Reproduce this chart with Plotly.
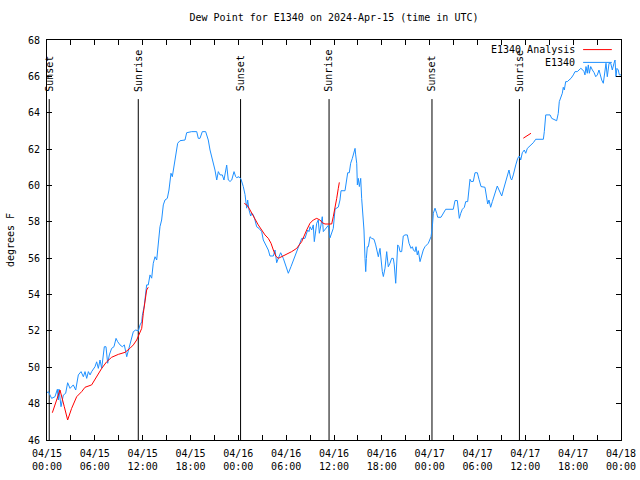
import pandas as pd
import plotly.graph_objects as go

# ---------------- data (hours since 2024-04-15 00:00 UTC) ----------------
obs_hours = [0.0, 0.17, 0.58, 1.0, 1.3, 1.42, 1.5, 1.76, 2.05, 2.34, 2.59, 2.89, 3.3, 3.6, 3.93, 4.27, 4.56,
             4.77, 4.98, 5.19, 5.4, 5.6, 6.02, 6.23, 6.44, 6.65, 6.86, 7.19, 7.4, 7.61, 7.82, 8.11, 8.4,
             8.66, 8.86, 9.16, 9.45, 9.7, 10.0, 10.2, 10.54, 10.83, 11.13, 11.46, 11.67, 11.88, 11.96,
             12.2, 12.5, 12.7, 12.92, 13.13, 13.33, 13.55, 13.76, 13.96, 14.17, 14.38, 14.59, 14.8,
             15.09, 15.3, 15.43, 15.55, 15.72, 15.93, 16.14, 16.39, 16.68, 17.1, 17.31, 17.52, 18.15,
             18.78, 18.98, 19.19, 19.48, 19.9, 20.23, 20.45, 20.66, 20.86, 21.07, 21.29, 21.49, 21.7,
             21.99, 22.2, 22.33, 22.54, 22.74, 22.96, 23.17, 23.46, 23.67, 23.79, 24.08, 24.33, 24.62,
             24.84, 25.05, 25.17, 25.34, 25.55, 25.68, 25.88, 26.09, 26.3, 26.59, 26.93, 27.13, 27.43,
             27.76, 27.97, 28.39, 28.6, 28.81, 29.01, 29.31, 29.64, 29.94, 30.27, 30.61, 30.9, 31.23,
             31.53, 31.95, 32.36, 32.7, 32.86, 32.99, 33.2, 33.4, 33.53, 33.7, 33.83, 34.03, 34.16,
             34.37, 34.53, 34.66, 34.87, 35.08, 35.28, 35.5, 35.71, 35.91, 36.13, 36.54, 36.75, 36.88,
             37.38, 37.59, 37.72, 37.92, 38.09, 38.3, 38.51, 38.64, 38.72, 38.85, 38.93, 39.05, 39.18,
             39.35, 39.47, 39.6, 39.76, 39.89, 39.98, 40.06, 40.18, 40.31, 40.52, 40.73, 41.02, 41.23,
             41.44, 41.56, 41.77, 41.9, 42.06, 42.19, 42.4, 42.61, 42.81, 43.02, 43.23, 43.44, 43.56,
             43.74, 43.86, 43.99, 44.15, 44.28, 44.49, 44.69, 44.91, 45.2, 45.41, 45.54, 45.66, 45.83,
             45.96, 46.16, 46.29, 46.45, 46.58, 46.79, 47.0, 47.2, 47.41, 47.63, 47.83, 48.17, 48.33,
             48.46, 48.67, 48.88, 49.01, 49.42, 49.71, 50.01, 50.96, 51.18, 51.47, 51.59, 51.72, 51.9,
             52.1, 52.35, 52.52, 52.77, 52.93, 53.06, 53.19, 53.47, 53.69, 53.98, 54.19, 54.44, 54.94,
             55.15, 55.28, 55.44, 55.65, 55.86, 56.07, 56.28, 56.48, 56.7, 56.82, 57.04, 57.24, 57.45,
             57.66, 57.95, 58.16, 58.29, 58.49, 58.62, 58.8, 59.05, 59.25, 59.42, 59.62, 59.87, 60.05,
             60.25, 60.46, 60.71, 61.0, 61.3, 62.26, 62.38, 62.56, 63.1, 63.31, 63.93, 64.13, 64.26,
             64.43, 64.64, 64.76, 64.89, 65.06, 65.27, 65.48, 65.73, 66.02, 66.23, 66.52, 66.73, 66.95,
             67.15, 67.36, 67.48, 67.61, 67.77, 67.9, 68.03, 68.2, 68.41, 68.62, 68.83, 69.03, 69.24,
             69.37, 69.58, 69.78, 69.99, 70.12, 70.28, 70.5, 70.71, 70.91, 71.12, 71.25, 71.37, 71.49,
             71.66, 71.79, 72.0]
obs_dewpt = [48.6, 48.66, 48.29, 48.38, 48.79, 48.2, 48.8, 47.83, 48.47, 48.57, 49.15, 48.84, 49.03, 48.75, 49.58, 49.76, 49.48,
             49.76, 49.39, 49.76, 49.58, 49.76, 50.03, 50.3, 49.94, 50.4, 49.94, 51.13, 51.13, 50.22, 50.68, 51.04, 51.13,
             51.59, 51.41, 51.23, 51.13, 51.23, 50.58, 50.95, 51.41, 51.96, 52.05, 52.0, 52.33, 52.5, 52.85,
             53.38, 54.53, 54.53, 55.08, 54.9, 55.72, 56.08, 55.9, 57.0, 57.73, 58.1, 58.93, 59.2,
             59.29, 59.75, 60.3, 60.67, 60.48, 61.03, 61.77, 62.32, 62.46, 62.5, 62.5, 62.9, 62.96,
             62.96, 62.59, 62.59, 62.96, 62.96, 62.5, 61.95, 61.58, 61.31, 60.85, 60.3, 60.76, 60.58,
             60.58, 60.3, 60.67, 61.12, 60.3, 60.22, 60.3, 60.76, 60.48, 60.43, 60.48, 60.35, 59.94,
             59.5, 58.75, 59.2, 58.65, 58.32, 58.47, 58.38, 58.1, 57.73, 57.64, 57.46, 57.0, 56.73,
             56.45, 56.12, 56.12, 56.45, 55.75, 55.99, 56.3, 55.99, 55.63, 55.17, 55.54, 55.9, 56.27,
             56.63, 57.09, 57.09, 57.55, 57.46, 57.73, 57.55, 57.83, 56.91, 57.64, 57.92, 58.1, 57.37,
             57.83, 58.28, 57.46, 57.6, 57.73, 57.8, 57.12, 57.37, 57.64, 58.7, 58.81, 59.2, 59.71,
             59.71, 60.39, 60.7, 60.7, 61.22, 61.49, 61.86, 62.04, 61.68, 61.22, 60.03, 60.39, 59.94,
             60.39, 59.29, 58.65, 57.55, 55.99, 55.26, 55.99, 56.63, 56.63, 57.18, 57.09, 57.04, 56.73,
             56.27, 56.08, 56.54, 55.72, 55.26, 54.99, 55.45, 56.36, 55.53, 55.72, 55.99, 55.99, 55.63,
             54.62, 55.99, 56.73, 56.63, 56.36, 56.36, 57.22, 57.28, 57.28, 56.82, 56.63, 56.54, 56.63,
             56.45, 56.36, 56.63, 56.18, 56.41, 55.81, 56.18, 56.45, 56.63, 56.73, 56.82, 57.18, 57.7,
             58.47, 58.75, 58.47, 58.25, 58.25, 58.47, 58.69, 58.69, 59.17, 59.17, 58.69, 58.19, 58.47,
             58.69, 58.8, 59.11, 59.11, 60.03, 60.34, 60.22, 60.22, 60.7, 60.7, 60.34, 59.94, 59.9,
             59.2, 58.98, 59.2, 58.8, 59.11, 59.39, 59.75, 59.97, 59.75, 59.66, 59.42, 59.75, 60.08,
             60.39, 60.85, 60.39, 60.3, 60.58, 60.85, 61.13, 61.5, 61.62, 61.4, 61.8, 61.95, 61.77,
             62.04, 62.13, 62.28, 62.35, 62.54, 62.54, 62.96, 63.88, 63.88, 63.69, 63.56, 63.96, 64.61,
             64.79, 65.07, 65.4, 65.25, 65.71, 65.71, 65.8, 65.89, 66.08, 66.26, 66.26, 66.35, 66.44,
             66.38, 66.26, 66.08, 66.54, 66.17, 66.63, 66.17, 66.54, 66.35, 66.21, 65.98, 66.08, 66.35,
             66.08, 65.8, 65.62, 66.17, 66.72, 65.98, 66.72, 66.72, 66.35, 66.72, 66.9, 65.98, 66.44,
             66.35, 66.08, 66.08]

ana_hours = [0.67, 1.2, 1.63, 2.17, 2.59, 3.09, 3.72, 4.35, 4.77, 5.6, 6.23, 6.86, 7.48, 8.11, 8.95, 9.78,
             10.4, 10.83, 11.25, 11.67, 11.88, 12.08, 12.29, 12.5, 12.7,
             12.71,
             24.75, 25.05, 25.34, 25.68, 26.09, 26.5, 26.93, 27.34, 27.76, 28.1, 28.39, 28.69, 29.01,
             29.44, 30.06, 30.69, 31.32, 31.95, 32.57, 32.99, 33.4, 33.83, 34.24, 34.53, 34.87, 35.28,
             35.71, 35.91, 36.13, 36.34, 36.54, 36.67,
             36.68,
             59.75, 60.71]
ana_dewpt = [47.5, 48.2, 48.75, 47.83, 47.1, 47.74, 48.38, 48.66, 48.9, 49.03, 49.48, 49.94, 50.3, 50.55, 50.71, 50.82,
             51.04, 51.23, 51.5, 51.87, 52.14, 52.97, 53.61, 54.25, 54.4,
             None,
             59.01, 58.93, 58.75, 58.47, 58.19, 57.83, 57.55, 57.28, 57.09, 56.82, 56.45, 56.12, 55.99,
             56.08, 56.23, 56.36, 56.54, 56.91, 57.55, 57.92, 58.1, 58.19, 58.1, 57.95, 57.88, 57.88,
             57.88, 58.28, 58.75, 59.29, 59.84, 60.17,
             None,
             62.6, 62.87]

event_hours = [0.28, 11.45, 24.28, 35.38, 48.29, 59.26]
event_labels = ["Sunset", "Sunrise", "Sunset", "Sunrise", "Sunset", "Sunrise"]

tick_hours = [0, 6, 12, 18, 24, 30, 36, 42, 48, 54, 60, 66, 72]
tick_labels = ["04/15<br>00:00", "04/15<br>06:00", "04/15<br>12:00", "04/15<br>18:00",
               "04/16<br>00:00", "04/16<br>06:00", "04/16<br>12:00", "04/16<br>18:00",
               "04/17<br>00:00", "04/17<br>06:00", "04/17<br>12:00", "04/17<br>18:00",
               "04/18<br>00:00"]

y_min, y_max = 46, 68
event_line_top = 64.75
event_label_y = 65.05

# ---------------- figure ----------------
base = pd.Timestamp("2024-04-15 00:00:00")
def to_time(hours):
    return [base + pd.Timedelta(hours=h) for h in hours]

FONT = "DejaVu Sans Mono, Liberation Mono, monospace"
BLUE = "#1e90ff"
RED = "#ff0000"

fig = go.Figure()

# sunrise / sunset lines
for h, lab in zip(event_hours, event_labels):
    t = base + pd.Timedelta(hours=h)
    fig.add_trace(go.Scatter(x=[t, t], y=[y_min, event_line_top], mode="lines",
                             line=dict(color="black", width=1), showlegend=False, hoverinfo="skip"))
    fig.add_annotation(x=t, y=event_label_y, text=lab, textangle=-90, showarrow=False,
                       xanchor="center", yanchor="bottom", font=dict(family=FONT, size=10, color="black"))

fig.add_trace(go.Scatter(x=to_time(obs_hours), y=obs_dewpt, mode="lines", name="E1340",
                         line=dict(color=BLUE, width=1), showlegend=False))
fig.add_trace(go.Scatter(x=to_time(ana_hours), y=ana_dewpt, mode="lines", name="E1340 Analysis",
                         line=dict(color=RED, width=1), connectgaps=False, showlegend=False))

# custom gnuplot-style legend (text, then sample line to the right)
legend_items = [("E1340 Analysis", RED, 0.976), ("E1340", BLUE, 0.944)]
for text, col, yp in legend_items:
    fig.add_annotation(xref="paper", yref="paper", x=0.924, y=yp, text=text, showarrow=False,
                       xanchor="right", yanchor="middle", font=dict(family=FONT, size=10, color="black"))
    fig.add_shape(type="line", xref="paper", yref="paper", x0=0.934, x1=0.984, y0=yp, y1=yp,
                  line=dict(color=col, width=1))

fig.update_layout(
    width=640, height=480,
    margin=dict(l=47, r=19, t=40, b=40, autoexpand=False),
    paper_bgcolor="white", plot_bgcolor="white",
    font=dict(family=FONT, size=10, color="black"),
    title=dict(text="Dew Point for E1340 on 2024-Apr-15 (time in UTC)", x=0.5, xref="paper",
               xanchor="center", y=1.0, yref="container", yanchor="top", pad=dict(t=14),
               font=dict(family=FONT, size=10)),
    showlegend=False,
)
fig.update_xaxes(
    range=[base, base + pd.Timedelta(hours=72)],
    tickmode="array", tickvals=to_time(tick_hours), ticktext=tick_labels,
    ticks="inside", ticklen=5, tickcolor="black", ticklabelstandoff=4,
    minor=dict(dtick=3 * 3600 * 1000, ticks="inside", ticklen=5, tickcolor="black"),
    showline=True, linecolor="black", linewidth=1, mirror="ticks",
    showgrid=False, zeroline=False, tickfont=dict(family=FONT, size=10),
)
fig.update_yaxes(
    range=[y_min, y_max], dtick=2, tick0=46,
    ticks="inside", ticklen=5, tickcolor="black", ticklabelstandoff=4,
    showline=True, linecolor="black", linewidth=1, mirror="ticks",
    showgrid=False, zeroline=False, tickfont=dict(family=FONT, size=10),
    title=dict(text="degrees F", font=dict(family=FONT, size=10), standoff=11),
)

# remove the default 8px page margin so the 640x480 figure fills the window exactly
fig.write_html("out.html", config={"displayModeBar": False},
               post_script="document.body.style.margin='0';document.body.style.overflow='hidden';")
